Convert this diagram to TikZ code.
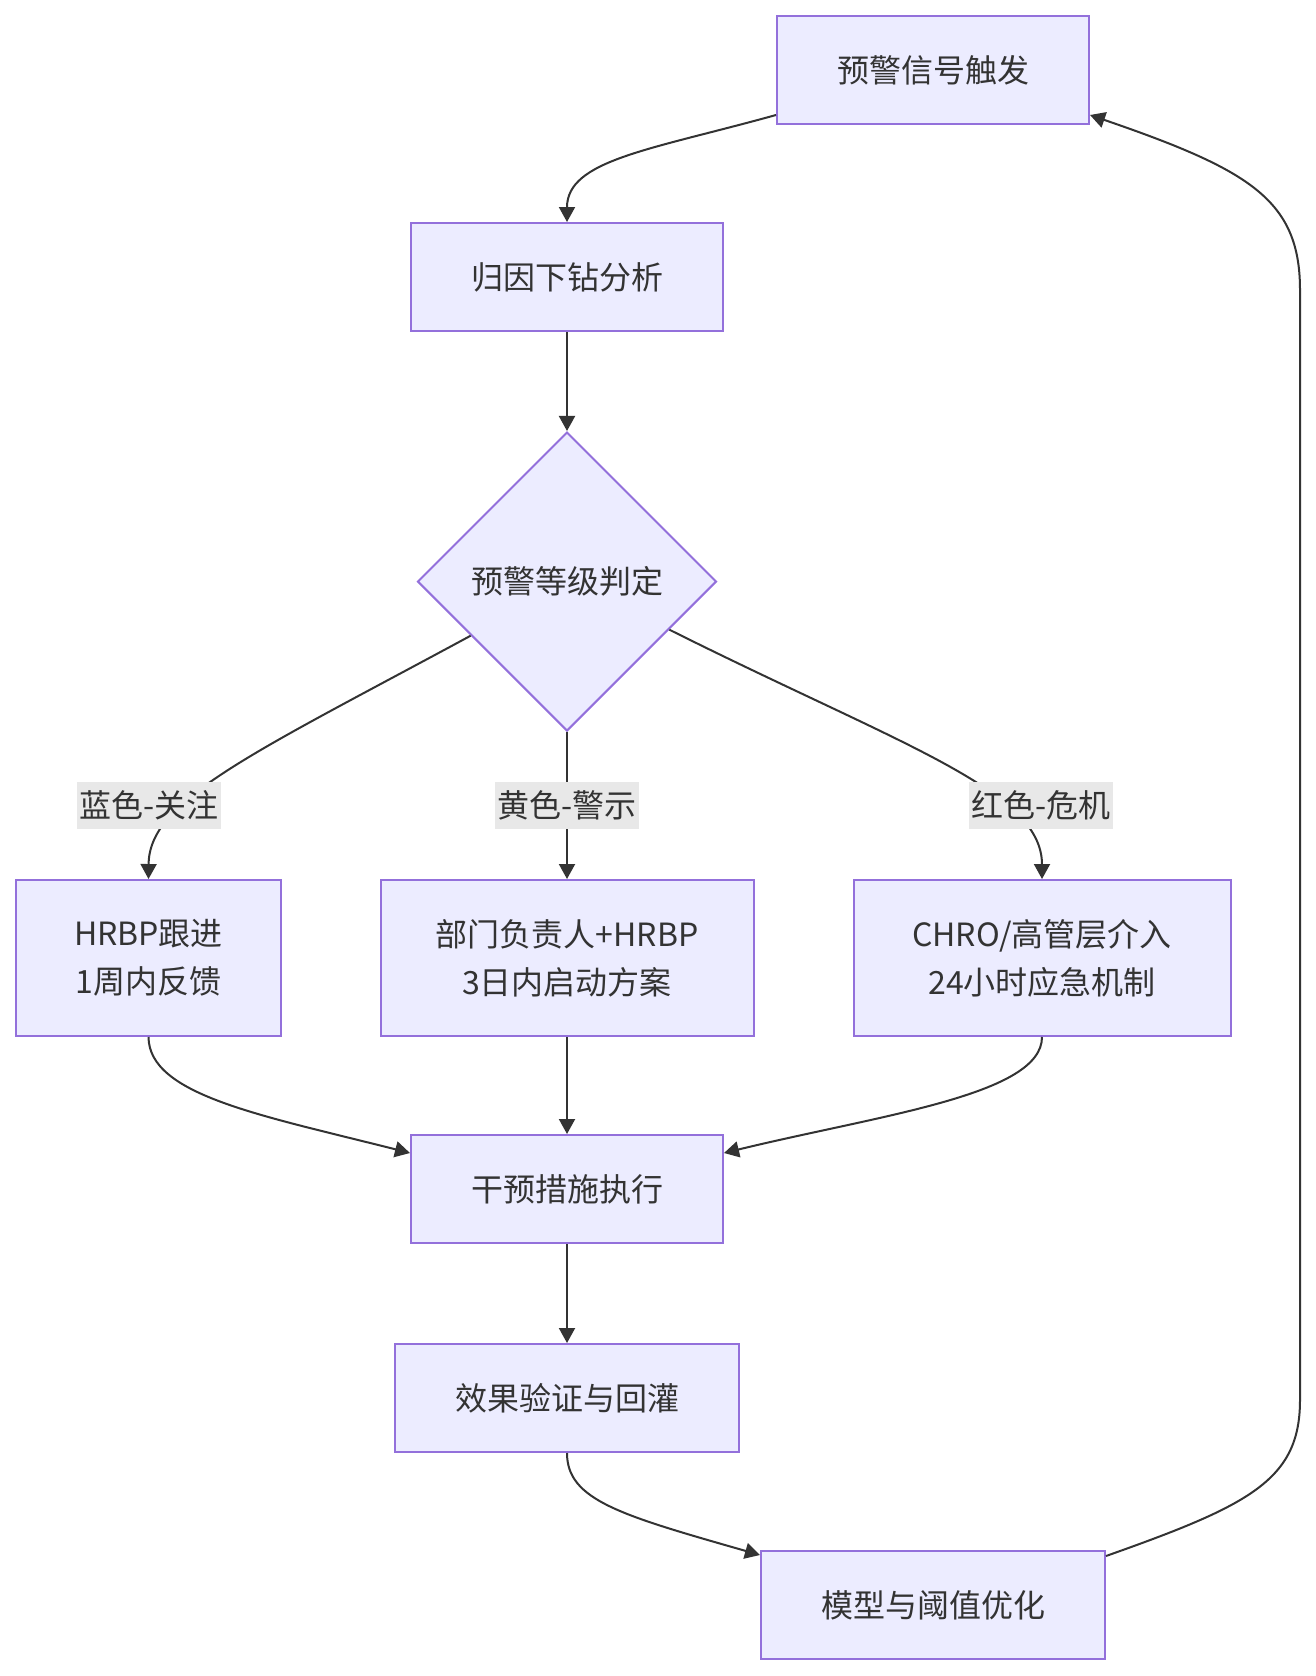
\documentclass[tikz,border=0pt]{standalone}
\usepackage{fontspec}
\setmainfont{Noto Sans CJK SC}
\usetikzlibrary{shapes.geometric,arrows.meta,calc}
\definecolor{boxfill}{HTML}{ECECFF}
\definecolor{boxline}{HTML}{9370DB}
\definecolor{edgecol}{HTML}{333333}
\definecolor{lblbg}{HTML}{E8E8E8}
\begin{document}
\begin{tikzpicture}[x=0.5pt,y=-0.5pt,
  every node/.style={font=\fontsize{16}{24}\selectfont, text=edgecol},
  proc/.style={draw=boxline, fill=boxfill, line width=1pt, minimum height=54pt, inner sep=0pt, align=center},
  decision/.style={diamond, draw=boxline, fill=boxfill, line width=1pt, minimum width=149.5pt, minimum height=149.5pt, inner sep=0pt, aspect=1},
  lbl/.style={fill=lblbg, inner xsep=1pt, inner ysep=0pt, minimum height=23.5pt},
  conn/.style={draw=edgecol, line width=1pt, -{Triangle[length=7.5pt,width=8pt]}},
]
\useasboundingbox (0,0) rectangle (1316,1676);

\node[proc, minimum width=156pt] (b1) at (933,70) {预警信号触发};
\node[proc, minimum width=156pt] (b2) at (567,277) {归因下钻分析};
\node[decision] (d) at (567,581.5) {预警等级判定};
\node[proc, minimum width=132.5pt, minimum height=78pt] (h) at (148.5,958) {HRBP跟进\\1周内反馈};
\node[proc, minimum width=186.5pt, minimum height=78pt] (p) at (567,958) {部门负责人+HRBP\\3日内启动方案};
\node[proc, minimum width=188.5pt, minimum height=78pt] (c) at (1042,958) {CHRO/高管层介入\\24小时应急机制};
\node[proc, minimum width=156pt] (g) at (567,1189) {干预措施执行};
\node[proc, minimum width=172pt] (e) at (567,1398) {效果验证与回灌};
\node[proc, minimum width=172pt] (m) at (933,1605) {模型与阈值优化};

\draw[conn] ($(b1.south west)+(0,-10)$) .. controls (650,150) and (567,160) .. (b2.north);
\draw[conn] (b2) -- (d);
\draw[conn] ($(d.west)!0.36!(d.south)$) .. controls (250,755) and (149,800) .. (h.north);
\draw[conn] (d) -- (p);
\draw[conn] ($(d.east)!0.32!(d.south)$) .. controls (900,745) and (1042,790) .. (c.north);
\draw[conn] (h.south) .. controls (149,1095) and (260,1115) .. ($(g.north west)+(0,19)$);
\draw[conn] (p) -- (g);
\draw[conn] (c.south) .. controls (1042,1095) and (880,1115) .. ($(g.north east)+(0,19)$);
\draw[conn] (g) -- (e);
\draw[conn] (e.south) .. controls (567,1500) and (620,1515) .. ($(m.north west)+(0,5)$);
\draw[conn] ($(m.north east)+(0,6)$) .. controls (1250,1505) and (1300,1480) .. (1300,1400) -- (1300,290) .. controls (1300,200) and (1250,170) .. ($(b1.south east)+(0,-10)$);

\node[lbl] (l1) at (149,805) {蓝色-关注};
\node[lbl] (l2) at (567,805) {黄色-警示};
\node[lbl] (l3) at (1041,805) {红色-危机};
\end{tikzpicture}
\end{document}
